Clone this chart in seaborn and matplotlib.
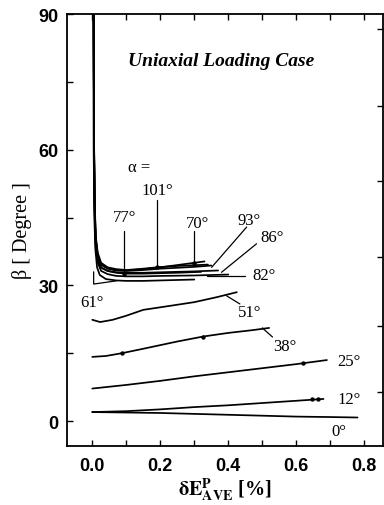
import numpy as np
import pandas as pd
import matplotlib
matplotlib.use("Agg")
import matplotlib.pyplot as plt
import seaborn as sns

sns.set_theme(style="ticks")
plt.rcParams["font.family"] = ["Liberation Sans", "DejaVu Sans"]
plt.rcParams["mathtext.fontset"] = "stix"
plt.rcParams["text.color"] = "black"
plt.rcParams["axes.labelcolor"] = "black"

# ---- data: beta [deg] vs plastic strain increment for each loading angle alpha ----
x_0 = [0.0, 0.1, 0.2, 0.3, 0.4, 0.5, 0.6, 0.7, 0.78]
b_0 = [2.0, 1.9, 1.8, 1.6, 1.4, 1.2, 1.0, 0.9, 0.8]

x_12 = [0.0, 0.1, 0.2, 0.3, 0.4, 0.5, 0.6, 0.68]
b_12 = [2.0, 2.2, 2.6, 3.1, 3.5, 4.0, 4.5, 4.9]

x_25 = [0.0, 0.1, 0.2, 0.3, 0.4, 0.5, 0.6, 0.69]
b_25 = [7.2, 8.0, 8.9, 9.9, 10.8, 11.7, 12.6, 13.5]

x_38 = [0.0, 0.04, 0.086, 0.15, 0.2, 0.25, 0.326, 0.4, 0.47, 0.52]
b_38 = [14.2, 14.4, 15.0, 16.0, 16.8, 17.6, 18.7, 19.5, 20.1, 20.6]

x_51 = [0.0, 0.023, 0.06, 0.10, 0.15, 0.23, 0.30, 0.366, 0.425]
b_51 = [22.4, 21.9, 22.4, 23.3, 24.6, 25.5, 26.3, 27.4, 28.5]

x_61 = [0.003, 0.004, 0.006, 0.009, 0.014, 0.022, 0.04, 0.07, 0.1, 0.15, 0.2, 0.25, 0.30]
b_61 = [92.0, 60.0, 45.0, 38.0, 34.0, 32.3, 31.4, 31.1, 31.0, 31.0, 31.1, 31.2, 31.3]

x_70 = [0.004, 0.005, 0.007, 0.010, 0.016, 0.026, 0.045, 0.07, 0.1, 0.15, 0.2, 0.25, 0.30, 0.33]
b_70 = [92.0, 62.0, 48.0, 40.0, 36.5, 34.6, 33.8, 33.4, 33.3, 33.6, 34.0, 34.5, 35.0, 35.3]

x_77 = [0.004, 0.005, 0.007, 0.010, 0.016, 0.026, 0.045, 0.07, 0.1, 0.15, 0.2, 0.25, 0.32]
b_77 = [92.0, 61.0, 46.0, 39.0, 35.5, 33.9, 33.2, 32.8, 32.6, 32.6, 32.7, 32.8, 33.0]

x_82 = [0.004, 0.005, 0.007, 0.010, 0.016, 0.026, 0.045, 0.07, 0.1, 0.15, 0.2, 0.3, 0.40]
b_82 = [92.0, 61.0, 46.0, 38.5, 35.0, 33.2, 32.5, 32.1, 32.0, 32.0, 32.1, 32.2, 32.4]

x_86 = [0.004, 0.005, 0.007, 0.010, 0.016, 0.026, 0.045, 0.07, 0.1, 0.15, 0.2, 0.3, 0.37]
b_86 = [92.0, 62.0, 47.0, 39.5, 36.0, 34.0, 33.2, 32.9, 32.8, 32.8, 32.9, 33.1, 33.3]

x_93 = [0.004, 0.005, 0.007, 0.010, 0.016, 0.026, 0.045, 0.07, 0.1, 0.15, 0.2, 0.3, 0.35]
b_93 = [92.0, 63.0, 48.0, 40.5, 36.8, 34.6, 33.7, 33.3, 33.2, 33.4, 33.7, 34.1, 34.4]

x_101 = [0.004, 0.005, 0.007, 0.010, 0.016, 0.026, 0.045, 0.07, 0.1, 0.15, 0.19, 0.25, 0.34]
b_101 = [92.0, 63.0, 49.0, 41.0, 37.2, 35.0, 34.0, 33.6, 33.4, 33.7, 34.0, 34.3, 34.6]

# marked data points
mark_x = [0.645, 0.665, 0.62, 0.086, 0.326, 0.30, 0.19, 0.094]
mark_b = [4.8, 4.9, 12.9, 15.0, 18.7, 35.0, 34.0, 32.6]

series = {
    "0": (x_0, b_0), "12": (x_12, b_12), "25": (x_25, b_25), "38": (x_38, b_38),
    "51": (x_51, b_51), "61": (x_61, b_61), "70": (x_70, b_70), "77": (x_77, b_77),
    "82": (x_82, b_82), "86": (x_86, b_86), "93": (x_93, b_93), "101": (x_101, b_101),
}
frames = [pd.DataFrame({"strain": xs, "beta": bs, "alpha": k}) for k, (xs, bs) in series.items()]
df = pd.concat(frames, ignore_index=True)

fig = plt.figure(figsize=(3.84, 5.06), dpi=100)
ax = fig.add_axes([67 / 384, 1 - 447 / 506, 316 / 384, 432 / 506])

sns.lineplot(data=df, x="strain", y="beta", units="alpha", estimator=None, sort=False,
             color="black", linewidth=1.25, ax=ax, legend=False)
sns.scatterplot(x=mark_x, y=mark_b, color="black", s=10, marker="o", edgecolor="black",
                linewidth=0, ax=ax, legend=False)

ax.set_xlim(-0.0744, 0.855)
ax.set_ylim(-5.5, 90)

ax.set_xticks(np.arange(0, 0.81, 0.1))
ax.set_xticklabels(["0.0", "", "0.2", "", "0.4", "", "0.6", "", "0.8"])
ax.set_yticks(np.arange(0, 91, 15))
ax.set_yticklabels(["0", "", "30", "", "60", "", "90"])
ax.tick_params(axis="both", direction="in", length=4, width=1.0, colors="black",
               labelsize=13, top=True)
ax.tick_params(axis="x", pad=8)
ax.tick_params(axis="y", pad=6)
for t in ax.get_xticklabels() + ax.get_yticklabels():
    t.set_fontweight("bold")
for s in ax.spines.values():
    s.set_linewidth(1.3)
    s.set_color("black")

# right-hand frame ticks
ax2 = ax.twinx()
ax2.set_ylim(-5.5, 90)
ax2.set_yticks([86.7, 69.6, 53.1, 36.2, 21.0, 6.4])
ax2.set_yticklabels([])
ax2.tick_params(axis="y", direction="in", length=4, width=1.0, colors="black")
for s in ax2.spines.values():
    s.set_visible(False)

serif = ["Liberation Serif", "DejaVu Serif"]
ax.set_ylabel("β [ Degree ]", family=serif, fontsize=14.5, color="black", labelpad=5)
ax.set_xlabel(r"$\mathbf{\delta E}^{\mathbf{P}}_{\mathbf{AVE}}$ [%]", family=serif,
              fontsize=14.5, weight="bold", color="black", labelpad=1)

ax.text(0.105, 79.7, "Uniaxial Loading Case", family=serif, style="italic",
        weight="bold", fontsize=14, va="center", ha="left", color="black")

lab = dict(family=serif, fontsize=12, va="center", color="black")
ax.text(0.105, 56.2, "α =", ha="left", **lab)
ax.text(0.19, 51.1, "101°", ha="center", **lab)
ax.text(0.096, 45.1, "77°", ha="center", **lab)
ax.text(0.31, 43.8, "70°", ha="center", **lab)
ax.text(0.46, 44.5, "93°", ha="center", **lab)
ax.text(0.53, 40.7, "86°", ha="center", **lab)
ax.text(0.47, 32.3, "82°", ha="left", **lab)
ax.text(0.0, 26.3, "61°", ha="center", **lab)
ax.text(0.464, 24.2, "51°", ha="center", **lab)
ax.text(0.566, 16.6, "38°", ha="center", **lab)
ax.text(0.72, 13.4, "25°", ha="left", **lab)
ax.text(0.72, 4.9, "12°", ha="left", **lab)
ax.text(0.726, -2.1, "0°", ha="center", **lab)

# leader lines
lk = dict(color="black", linewidth=0.9)
ax.plot([0.19, 0.19], [48.9, 34.0], **lk)
ax.plot([0.094, 0.094], [42.0, 33.0], **lk)
ax.plot([0.30, 0.30], [42.1, 35.2], **lk)
ax.plot([0.454, 0.351], [42.9, 34.0], **lk)
ax.plot([0.483, 0.38], [39.2, 32.9], **lk)
ax.plot([0.336, 0.45], [32.1, 32.1], **lk)
ax.plot([0.004, 0.004, 0.07], [33.0, 30.3, 31.0], **lk)
ax.plot([0.395, 0.434], [27.7, 25.9], **lk)
ax.plot([0.50, 0.53], [20.6, 18.6], **lk)

fig.savefig("out.png", dpi=100)
